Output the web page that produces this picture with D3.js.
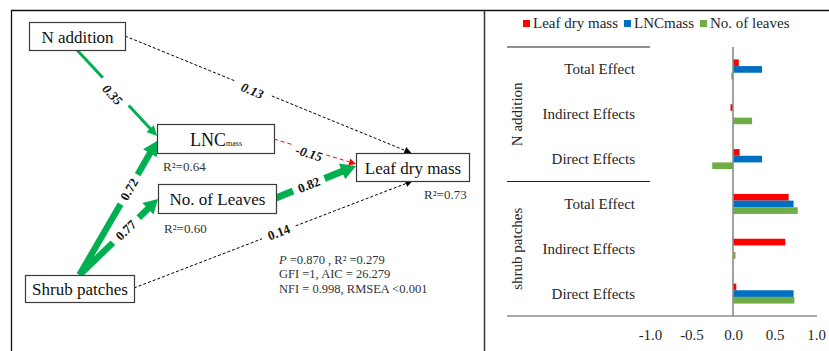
<!DOCTYPE html>
<html><head><meta charset="utf-8">
<script src="https://cdn.jsdelivr.net/npm/d3@7"></script>
<style>
body{margin:0;background:#fff}
svg{display:block}
</style>
</head><body>
<svg id="c" width="829" height="351"></svg>
<script>
// ---------- DATA ----------
const groups = ["N addition", "shrub patches"];
const effects = ["Total Effect", "Indirect Effects", "Direct Effects"];
const seriesNames = ["Leaf dry mass", "LNCmass", "No. of leaves"];
// rows: N addition (Total, Indirect, Direct), shrub patches (Total, Indirect, Direct)
const leafDryMass = [0.07, -0.03, 0.08, 0.67, 0.63, 0.04];
const lncMass     = [0.35, 0.00, 0.35, 0.73, 0.00, 0.73];
const noOfLeaves  = [-0.02, 0.23, -0.25, 0.78, 0.03, 0.74];
const xTicks = [-1, -0.5, 0, 0.5, 1];

// path diagram
const nodeNames = ["N addition", "LNC", "Leaf dry mass", "No. of Leaves", "Shrub patches"];
const nodeR2 = [null, "0.64", "0.73", "0.60", null];
const edgeFrom = [0, 0, 1, 4, 4, 3, 4];
const edgeTo   = [1, 2, 2, 1, 3, 2, 2];
const pathCoef = ["0.35", "0.13", "-0.15", "0.72", "0.77", "0.82", "0.14"];
const fitLines = [
  [{t:"P", i:true}, {t:" =0.870 , R² =0.279"}],
  [{t:"GFI =1, AIC = 26.279"}],
  [{t:"NFI = 0.998, RMSEA <0.001"}]
];

// ---------- LAYOUT / STYLE ----------
const FONT = "Times New Roman";
const svg = d3.select("#c");
const nodeBox = [
  {x:29, y:22, w:96, h:28},
  {x:157, y:124, w:117, h:29},
  {x:356, y:153, w:113, h:28},
  {x:158, y:184, w:118, h:29},
  {x:25, y:275, w:109, h:27}
];
// anchor fractions on boxes [fx, fy]
const edgeStartAnchor = [[0.5,1],[1,0.5],[1,0.52],[0.5,0],[0.5,0],[1,0.48],[1,0.48]];
const edgeEndAnchor   = [[0,0.41],[0.49,0],[0,0.39],[0,0.59],[0,0.52],[0,0.46],[0.5,1]];
const edgeWidth = [3, 1, 1, 6.5, 6.5, 7, 1];
const edgeColor = ["#00B050", "#000", "#FF0000", "#00B050", "#00B050", "#00B050", "#000"];
const edgeDash = [null, "3,2", "4,3", null, null, null, "3,2"];
const headLen = [10, 7, 7, 14, 14, 15, 7];
const headHalf = [5, 3.5, 3.5, 8, 8, 8.5, 3.5];
const labelT = [0.485, 0.448, 0.44, 0.64, 0.59, 0.41, 0.52];
const labelGap = [19, 20, 17, 17, 18, 17, 18];
const labelOff = [4.5, 2.5, 3.5, 0, 0, 0, 0];
const labelItalic = [true, true, true, false, false, false, false];

// ---------- FRAME ----------
svg.append("line").attr("x1",11).attr("x2",829).attr("y1",10.5).attr("y2",10.5).attr("stroke","#111").attr("stroke-width",1.3);
svg.append("line").attr("x1",11.5).attr("x2",11.5).attr("y1",10).attr("y2",351).attr("stroke","#111").attr("stroke-width",1.3);
svg.append("line").attr("x1",484.5).attr("x2",484.5).attr("y1",10).attr("y2",351).attr("stroke","#333").attr("stroke-width",1.5);

// ---------- PATH DIAGRAM ----------
function anchor(n, a){ const b = nodeBox[n]; return [b.x + a[0]*b.w, b.y + a[1]*b.h]; }
const gE = svg.append("g");
pathCoef.forEach((lab, i) => {
  const s = anchor(edgeFrom[i], edgeStartAnchor[i]);
  const e = anchor(edgeTo[i], edgeEndAnchor[i]);
  const dx = e[0]-s[0], dy = e[1]-s[1];
  const L = Math.hypot(dx, dy);
  const ux = dx/L, uy = dy/L;
  const pt = d => [s[0]+ux*d, s[1]+uy*d];
  const tc = labelT[i]*L;
  const segs = [[0, tc - labelGap[i]], [tc + labelGap[i], L - headLen[i] + (edgeDash[i] ? 0 : 1)]];
  segs.forEach(sg => {
    const a = pt(sg[0]), b = pt(sg[1]);
    const ln = gE.append("line").attr("x1",a[0]).attr("y1",a[1]).attr("x2",b[0]).attr("y2",b[1])
      .attr("stroke", edgeColor[i]).attr("stroke-width", edgeWidth[i]);
    if (edgeDash[i]) ln.attr("stroke-dasharray", edgeDash[i]);
  });
  const base = pt(L - headLen[i]);
  const nx = -uy, ny = ux;
  gE.append("polygon").attr("points", [
    e, [base[0]+nx*headHalf[i], base[1]+ny*headHalf[i]], [base[0]-nx*headHalf[i], base[1]-ny*headHalf[i]]
  ].map(p => p.join(",")).join(" ")).attr("fill", edgeColor[i]);
  const c = pt(tc);
  const ang = Math.atan2(dy, dx) * 180 / Math.PI;
  gE.append("text")
    .attr("transform", `translate(${c[0]+nx*labelOff[i]},${c[1]+ny*labelOff[i]}) rotate(${ang})`)
    .attr("text-anchor","middle").attr("dominant-baseline","central")
    .attr("font-size", 13).attr("font-weight","bold")
    .attr("font-style", labelItalic[i] ? "italic" : "normal")
    .attr("fill","#111").text(lab);
});

const gN = svg.append("g");
nodeNames.forEach((nm, i) => {
  const b = nodeBox[i];
  gN.append("rect").attr("x",b.x+0.5).attr("y",b.y+0.5).attr("width",b.w).attr("height",b.h)
    .attr("fill","#fff").attr("stroke","#3a3a3a").attr("stroke-width",1.2);
  const t = gN.append("text").attr("x", b.x + b.w/2 + 0.5).attr("y", b.y + b.h/2 + 6.5)
    .attr("text-anchor","middle").attr("font-size",17).attr("fill","#111");
  if (nm === "LNC") {
    t.attr("font-size",18).attr("y", b.y + b.h/2 + 7);
    t.append("tspan").text("LNC");
    t.append("tspan").attr("font-size",8).text("mass");
  } else t.text(nm);
  if (nodeR2[i]) {
    gN.append("text").attr("x", i === 2 ? b.x + 68 : b.x + 6).attr("y", b.y + b.h + (i === 3 ? 20 : 18))
      .attr("font-size",13).attr("fill","#333").text("R²=" + nodeR2[i]);
  }
});

const gS = svg.append("g").attr("font-size",12.5).attr("fill","#333");
fitLines.forEach((ln, k) => {
  const t = gS.append("text").attr("x",279).attr("y",263.5 + k*14.8);
  ln.forEach(p => { const sp = t.append("tspan").text(p.t); if (p.i) sp.attr("font-style","italic"); });
});

// ---------- BAR CHART ----------
const x = d3.scaleLinear().domain([-1, 1]).range([650, 816]);
const rows = d3.range(groups.length * effects.length);
const y = d3.scaleBand().domain(rows).range([47, 316]).paddingInner(0.554).paddingOuter(0.277);
const ySub = d3.scaleBand().domain([0,1,2]).range([0, y.bandwidth()]);
const series = [leafDryMass, lncMass, noOfLeaves];
const colors = ["#FF0000", "#0070C0", "#70AD47"];

series.forEach((vals, si) => {
  svg.append("g").selectAll("rect").data(vals).join("rect")
    .attr("x", d => x(Math.min(0, d)))
    .attr("width", d => Math.abs(x(d) - x(0)))
    .attr("y", (d, i) => y(i) + ySub(si))
    .attr("height", ySub.bandwidth())
    .attr("fill", colors[si]);
});

// zero axis line
svg.append("line").attr("x1", x(0)).attr("x2", x(0)).attr("y1", 47).attr("y2", 316)
  .attr("stroke","#8c8c8c").attr("stroke-width",1.6);
// bottom axis line (incl. category area)
svg.append("line").attr("x1",507).attr("x2",817).attr("y1",316).attr("y2",316)
  .attr("stroke","#8c8c8c").attr("stroke-width",1.6);
// group separators
const step = y.step();
[0, effects.length].forEach(k => {
  const yy = 47 + k*step;
  svg.append("line").attr("x1",507).attr("x2",650).attr("y1",yy).attr("y2",yy)
    .attr("stroke","#222").attr("stroke-width",1.2);
});

const ax = svg.append("g").attr("transform","translate(0,316)")
  .call(d3.axisBottom(x).tickValues(xTicks).tickSize(0).tickPadding(13).tickFormat(d => d.toFixed(1)));
ax.select(".domain").remove();
ax.selectAll("text").attr("font-size",15).attr("fill","#262626");

// category labels
svg.append("g").selectAll("text").data(rows).join("text")
  .attr("x", 635).attr("y", i => y(i) + y.bandwidth()/2 + 5)
  .attr("text-anchor","end").attr("font-size",15).attr("fill","#262626")
  .text(i => effects[i % effects.length]);

// group labels
groups.forEach((g, gi) => {
  const cy = 47 + (gi + 0.5) * effects.length * step;
  svg.append("text").attr("transform", `translate(522,${cy}) rotate(-90)`)
    .attr("text-anchor","middle").attr("font-size",15).attr("fill","#262626").text(g);
});

// apply font to every text before measuring
svg.selectAll("text").attr("font-family", FONT);

// legend
let lx = 523;
seriesNames.forEach((nm, si) => {
  svg.append("rect").attr("x", lx).attr("y", 20).attr("width", 7).attr("height", 7).attr("fill", colors[si]);
  const t = svg.append("text").attr("x", lx + 10).attr("y", 27.5).attr("font-size",15)
    .attr("font-family", FONT).attr("fill","#262626").text(nm);
  lx += 10 + t.node().getComputedTextLength() + 6;
});
</script>
</body></html>
